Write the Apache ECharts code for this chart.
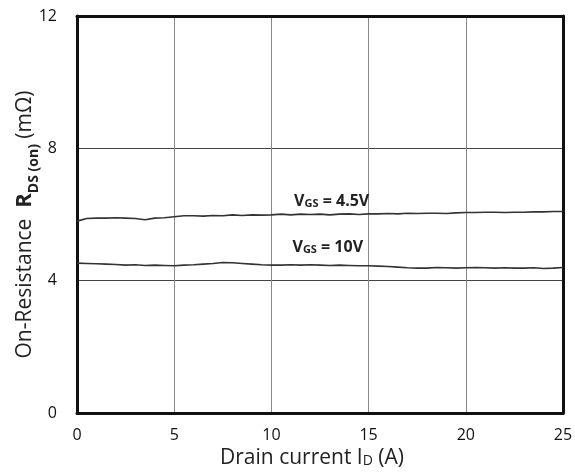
<!DOCTYPE html>
<html><head><meta charset="utf-8">
<script src="https://cdn.jsdelivr.net/npm/echarts@6/dist/echarts.min.js"></script>
<style>html,body{margin:0;padding:0;background:#fff}#c{width:575px;height:472px}</style>
</head><body><div id="c"></div>
<script>
var current = [];
for (var i = 0; i <= 50; i++) current.push(i * 0.5);
var rds45 = [5.80,5.88,5.89,5.89,5.90,5.89,5.88,5.84,5.89,5.90,5.93,5.96,5.96,5.95,5.97,5.96,5.99,5.97,5.99,5.98,5.99,6.01,5.99,6.01,6.00,6.01,5.99,6.01,6.02,6.00,6.02,6.02,6.03,6.02,6.04,6.03,6.04,6.04,6.03,6.05,6.06,6.06,6.07,6.07,6.06,6.07,6.07,6.08,6.08,6.09,6.09];
var rds10 = [4.53,4.52,4.51,4.50,4.49,4.47,4.48,4.46,4.47,4.46,4.45,4.47,4.48,4.50,4.52,4.55,4.54,4.52,4.50,4.48,4.47,4.47,4.48,4.47,4.48,4.47,4.46,4.47,4.46,4.45,4.45,4.44,4.43,4.41,4.39,4.38,4.38,4.40,4.39,4.38,4.39,4.40,4.39,4.38,4.39,4.38,4.38,4.39,4.37,4.38,4.40];
var xTicks = [0,5,10,15,20,25];
var yTicks = [0,4,8,12];
var label45 = {text: ['V','GS',' = 4.5V'], at: [13.1, 6.38]};
var label10 = {text: ['V','GS',' = 10V'], at: [12.9, 4.99]};

function pairs(ys){ return current.map(function(x,i){return [x, ys[i]];}); }
function mp(lab){
  return {symbol:'rect', symbolSize:1, silent:true, itemStyle:{color:'rgba(0,0,0,0)'},
    data:[{coord: lab.at, value: 0}],
    label:{show:true, position:'inside', color:'#222',
      formatter:'{a|'+lab.text[0]+'}{b|'+lab.text[1]+'}{a|'+lab.text[2]+'}',
      rich:{a:{fontFamily:'Open Sans',fontWeight:'bold',fontSize:16,color:'#222',verticalAlign:'bottom'},
            b:{fontFamily:'Open Sans',fontWeight:'bold',fontSize:11,color:'#222',verticalAlign:'bottom',padding:[0,0,1,0]}}}};
}
var frameLine = {show:true,onZero:false,lineStyle:{color:'#111',width:3}};
var chart = echarts.init(document.getElementById('c'));
chart.setOption({
  animation:false,
  grid:{left:77,right:12,top:16,bottom:59,outerBoundsMode:'none',containLabel:false},
  xAxis:[{type:'value',min:xTicks[0],max:xTicks[xTicks.length-1],interval:5,
    axisLine:frameLine,axisTick:{show:false},
    axisLabel:{margin:14,fontSize:16,color:'#111',fontFamily:'Open Sans'},
    splitLine:{show:true,lineStyle:{color:'#888',width:1}},
    name:'{a|Drain current I}{s|D}{a| (A)}',nameLocation:'middle',nameGap:27,
    nameTextStyle:{padding:[0,16,0,0],rich:{a:{fontSize:21,color:'#222',fontFamily:'Open Sans',verticalAlign:'bottom'},s:{fontSize:14,color:'#222',fontFamily:'Open Sans',verticalAlign:'bottom',padding:[0,0,1,0]}}}},
    {type:'value',position:'top',min:xTicks[0],max:xTicks[xTicks.length-1],interval:5,
     axisLine:frameLine,axisTick:{show:false},axisLabel:{show:false},splitLine:{show:false}}],
  yAxis:[{type:'value',min:yTicks[0],max:yTicks[yTicks.length-1],interval:4,
    axisLine:frameLine,axisTick:{show:false},
    axisLabel:{margin:20,fontSize:16,color:'#111',fontFamily:'Open Sans'},
    splitLine:{show:true,lineStyle:{color:'#444',width:1}},
    name:'{a|On-Resistance  }{r|R}{s|DS (on)}{a| (mΩ)}',nameLocation:'middle',nameGap:36,nameRotate:90,nameMoveOverlap:false,
    nameTextStyle:{padding:[0,20,0,0],rich:{a:{fontSize:21,color:'#222',fontFamily:'Open Sans',verticalAlign:'bottom',padding:[0,0,5,0]},
      r:{fontSize:22,fontWeight:'bold',color:'#222',fontFamily:'Open Sans',verticalAlign:'bottom',padding:[0,0,5,0]},
      s:{fontSize:14,fontWeight:'bold',color:'#222',fontFamily:'Open Sans',verticalAlign:'bottom'}}}},
    {type:'value',position:'right',min:yTicks[0],max:yTicks[yTicks.length-1],interval:4,
     axisLine:frameLine,axisTick:{show:false},axisLabel:{show:false},splitLine:{show:false}}],
  series:[
    {type:'line',data:pairs(rds45),showSymbol:false,lineStyle:{color:'#333',width:1.6},markPoint:mp(label45)},
    {type:'line',data:pairs(rds10),showSymbol:false,lineStyle:{color:'#333',width:1.6},markPoint:mp(label10)}
  ]
});
</script></body></html>
